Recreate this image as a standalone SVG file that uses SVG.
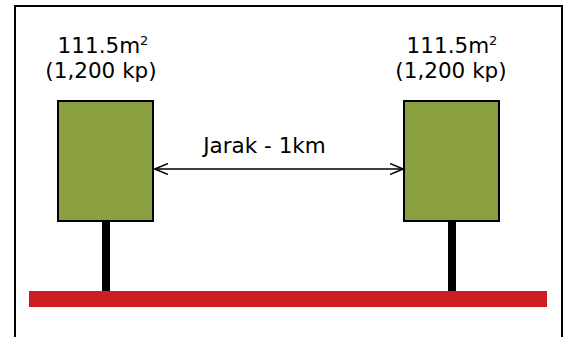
<svg xmlns="http://www.w3.org/2000/svg" width="563" height="337" viewBox="0 0 563 337">
<style>
.t{font-family:"DejaVu Sans",Verdana,sans-serif;font-size:21.5px;fill:#000;text-anchor:middle}
.box{fill:#8AA040;stroke:#000;stroke-width:2}
.stem{fill:#000}
</style>
<defs>
<marker id="ah" viewBox="0 0 14 12" refX="13" refY="6" markerWidth="14" markerHeight="12" markerUnits="userSpaceOnUse" orient="auto-start-reverse">
<path d="M0,0.5 L13,6 L0,11.5" fill="none" stroke="#000" stroke-width="1.5"/>
</marker>
</defs>
<rect x="0" y="0" width="563" height="337" fill="#fff"/>
<rect id="frame" x="15" y="6" width="547" height="345" fill="none" stroke="#000" stroke-width="2"/>
<rect id="road" x="29" y="291" width="518" height="16" fill="#CC1F24"/>
<g id="node-left">
<rect class="stem" x="102" y="220" width="8" height="71"/>
<rect class="box" x="58" y="101" width="95" height="120"/>
<text class="t" x="103" y="53">111.5m<tspan font-size="13" dy="-8">2</tspan></text>
<text class="t" x="101" y="78">(1,200 kp)</text>
</g>
<g id="node-right">
<rect class="stem" x="448" y="220" width="8" height="71"/>
<rect class="box" x="404" y="101" width="95" height="120"/>
<text class="t" x="452" y="53">111.5m<tspan font-size="13" dy="-8">2</tspan></text>
<text class="t" x="451" y="78">(1,200 kp)</text>
</g>
<g id="connectors">
<line x1="155" y1="169" x2="403" y2="169" stroke="#000" stroke-width="1.5" marker-start="url(#ah)" marker-end="url(#ah)"/>
<text class="t" x="264.5" y="153">Jarak - 1km</text>
</g>
</svg>
